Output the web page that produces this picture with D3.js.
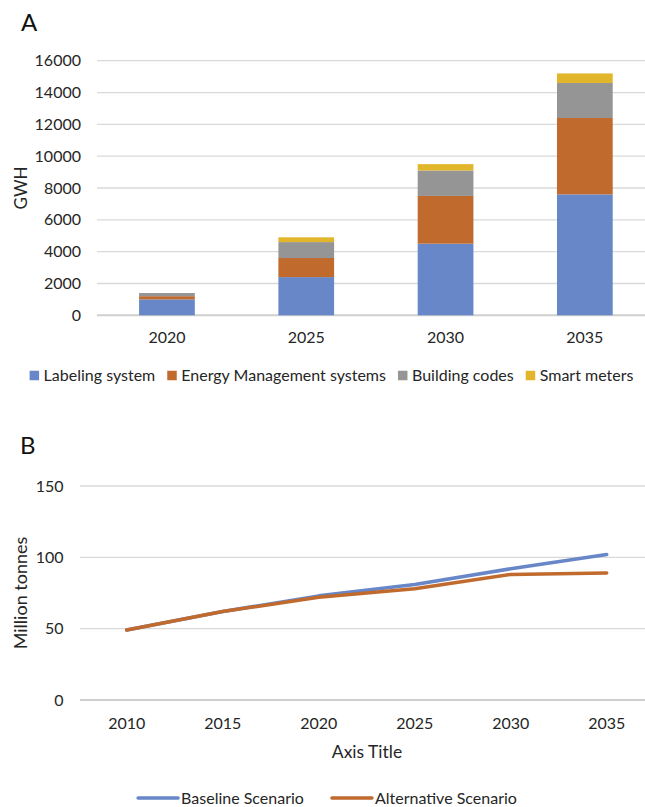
<!DOCTYPE html>
<html>
<head>
<meta charset="utf-8">
<script src="https://cdn.jsdelivr.net/npm/d3@7"></script>
<style>
  body { margin: 0; background: #fff; }
  svg { display: block; font-family: Lato, "Open Sans", sans-serif; }
  .tick-label { font-size: 16px; fill: #262626; }
  .grid { stroke: #d9d9d9; stroke-width: 1.3; }
  .base { stroke: #cfcfcf; stroke-width: 2; }
</style>
</head>
<body>
<div id="chart"></div>
<script>
// ---- data: panel A (GWH) ----
var barYears = ["2020", "2025", "2030", "2035"];
var labeling = [1000, 2400, 4500, 7600];
var energyMgmt = [200, 1200, 3000, 4800];
var buildingCodes = [200, 1000, 1600, 2200];
var smartMeters = [0, 300, 400, 600];
var barSeries = ["Labeling system", "Energy Management systems", "Building codes", "Smart meters"];
var barColors = ["#6787c8", "#c06a2e", "#959595", "#e2b62a"];
var gwhTicks = [0, 2000, 4000, 6000, 8000, 10000, 12000, 14000, 16000];

// ---- data: panel B (million tonnes) ----
var lineYears = ["2010", "2015", "2020", "2025", "2030", "2035"];
var baseline = [49, 62, 73, 81, 92, 102];
var alternative = [49, 62, 72, 78, 88, 89];
var lineSeries = ["Baseline Scenario", "Alternative Scenario"];
var lineColors = ["#6787c8", "#c06a2e"];
var tonTicks = [0, 50, 100, 150];

var W = 645, H = 807;
var svg = d3.select("#chart").append("svg")
    .attr("width", W)
    .attr("height", H);

// centre of the original chart area (it is cut off on the right)
var chartMid = 327.5;

/* ================= Panel A ================= */
svg.append("text")
    .attr("x", 21).attr("y", 31)
    .style("font-size", "24px").style("fill", "#111")
    .text("A");

var xA = d3.scaleBand()
    .domain(barYears)
    .range([97.3, 654.5])
    .paddingInner(0.6)
    .paddingOuter(0.3);

var yA = d3.scaleLinear()
    .domain([0, 16000])
    .range([315.3, 60.7]);

var gA = svg.append("g");

gA.selectAll("line.grid")
    .data(gwhTicks.filter(function(d) { return d > 0; }))
    .enter().append("line")
    .attr("class", "grid")
    .attr("x1", 97).attr("x2", 656)
    .attr("y1", function(d) { return yA(d); })
    .attr("y2", function(d) { return yA(d); });

gA.append("line")
    .attr("class", "base")
    .attr("x1", 97).attr("x2", 656)
    .attr("y1", yA(0)).attr("y2", yA(0));

gA.selectAll("text.ylab")
    .data(gwhTicks)
    .enter().append("text")
    .attr("class", "tick-label")
    .attr("x", 81)
    .attr("y", function(d) { return yA(d); })
    .attr("dy", "0.35em")
    .attr("text-anchor", "end")
    .text(function(d) { return d; });

svg.append("text")
    .attr("class", "tick-label")
    .attr("transform", "translate(21," + ((yA(0) + yA(16000)) / 2) + ") rotate(-90)")
    .attr("dy", "0.35em")
    .attr("text-anchor", "middle")
    .style("font-size", "17px")
    .text("GWH");

// stacked bars
var table = barYears.map(function(y, i) {
    var row = { year: y };
    row[barSeries[0]] = labeling[i];
    row[barSeries[1]] = energyMgmt[i];
    row[barSeries[2]] = buildingCodes[i];
    row[barSeries[3]] = smartMeters[i];
    return row;
});
var stacked = d3.stack().keys(barSeries)(table);

gA.selectAll("g.layer")
    .data(stacked)
    .enter().append("g")
    .attr("fill", function(d, i) { return barColors[i]; })
    .selectAll("rect")
    .data(function(d) { return d; })
    .enter().append("rect")
    .attr("x", function(d) { return xA(d.data.year); })
    .attr("width", xA.bandwidth())
    .attr("y", function(d) { return yA(d[1]); })
    .attr("height", function(d) { return yA(d[0]) - yA(d[1]); });

gA.selectAll("text.xlab")
    .data(barYears)
    .enter().append("text")
    .attr("class", "tick-label")
    .attr("x", function(d) { return xA(d) + xA.bandwidth() / 2; })
    .attr("y", 337.5)
    .attr("dy", "0.35em")
    .attr("text-anchor", "middle")
    .text(function(d) { return d; });

// legend A
var legA = svg.append("g");
var itemsA = legA.selectAll("g")
    .data(barSeries)
    .enter().append("g");
itemsA.append("rect")
    .attr("width", 9.5).attr("height", 9.5)
    .attr("y", -4.75)
    .attr("fill", function(d, i) { return barColors[i]; });
itemsA.append("text")
    .attr("class", "tick-label")
    .attr("x", 14)
    .attr("dy", "0.35em")
    .text(function(d) { return d; });
var offA = 0;
itemsA.each(function() {
    var w = 14 + this.querySelector("text").getComputedTextLength();
    d3.select(this).attr("transform", "translate(" + offA + ",0)");
    offA += w + 12;
});
offA -= 12;
legA.attr("transform", "translate(" + (chartMid + 4 - offA / 2) + ",375.5)");

/* ================= Panel B ================= */
svg.append("text")
    .attr("x", 20).attr("y", 454)
    .style("font-size", "24px").style("fill", "#111")
    .text("B");

var xB = d3.scalePoint()
    .domain(lineYears)
    .range([126.7, 606.7]);

var yB = d3.scaleLinear()
    .domain([0, 150])
    .range([700, 486]);

var gB = svg.append("g");

gB.selectAll("line.grid")
    .data(tonTicks.filter(function(d) { return d > 0; }))
    .enter().append("line")
    .attr("class", "grid")
    .attr("x1", 80).attr("x2", 656)
    .attr("y1", function(d) { return yB(d); })
    .attr("y2", function(d) { return yB(d); });

gB.append("line")
    .attr("class", "base")
    .attr("x1", 80).attr("x2", 656)
    .attr("y1", yB(0)).attr("y2", yB(0));

gB.selectAll("text.ylab")
    .data(tonTicks)
    .enter().append("text")
    .attr("class", "tick-label")
    .attr("x", 63.5)
    .attr("y", function(d) { return yB(d); })
    .attr("dy", "0.35em")
    .attr("text-anchor", "end")
    .text(function(d) { return d; });

svg.append("text")
    .attr("class", "tick-label")
    .attr("transform", "translate(21," + ((yB(0) + yB(150)) / 2) + ") rotate(-90)")
    .attr("dy", "0.35em")
    .attr("text-anchor", "middle")
    .style("font-size", "18px")
    .text("Million tonnes");

gB.selectAll("text.xlab")
    .data(lineYears)
    .enter().append("text")
    .attr("class", "tick-label")
    .attr("x", function(d) { return xB(d); })
    .attr("y", 723.5)
    .attr("dy", "0.35em")
    .attr("text-anchor", "middle")
    .text(function(d) { return d; });

svg.append("text")
    .attr("class", "tick-label")
    .attr("x", 367).attr("y", 752)
    .attr("dy", "0.35em")
    .attr("text-anchor", "middle")
    .style("font-size", "17.5px")
    .text("Axis Title");

var line = d3.line()
    .x(function(d, i) { return xB(lineYears[i]); })
    .y(function(d) { return yB(d); });

gB.selectAll("path.series")
    .data([baseline, alternative])
    .enter().append("path")
    .attr("fill", "none")
    .attr("stroke", function(d, i) { return lineColors[i]; })
    .attr("stroke-width", 3.5)
    .attr("stroke-linecap", "round")
    .attr("stroke-linejoin", "round")
    .attr("d", line);

// legend B
var legB = svg.append("g");
var itemsB = legB.selectAll("g")
    .data(lineSeries)
    .enter().append("g");
itemsB.append("line")
    .attr("x1", 0).attr("x2", 40)
    .attr("stroke", function(d, i) { return lineColors[i]; })
    .attr("stroke-width", 3.5)
    .attr("stroke-linecap", "round");
itemsB.append("text")
    .attr("class", "tick-label")
    .attr("x", 43)
    .attr("dy", "0.35em")
    .text(function(d) { return d; });
var offB = 0;
itemsB.each(function() {
    var w = 43 + this.querySelector("text").getComputedTextLength();
    d3.select(this).attr("transform", "translate(" + offB + ",0)");
    offB += w + 28;
});
offB -= 28;
legB.attr("transform", "translate(" + (chartMid - offB / 2) + ",798)");
</script>
</body>
</html>
